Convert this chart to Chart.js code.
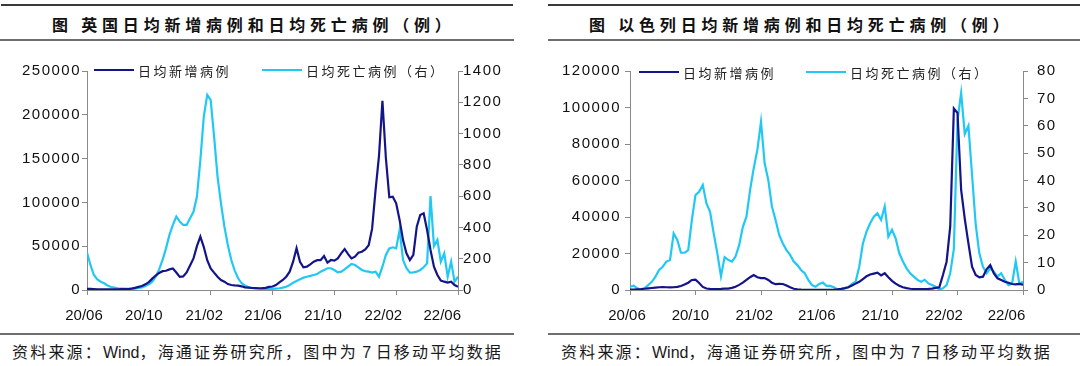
<!DOCTYPE html>
<html>
<head>
<meta charset="utf-8">
<script src="https://cdn.jsdelivr.net/npm/chart.js@4.4.1/dist/chart.umd.min.js"></script>
<style>
  html, body { margin: 0; padding: 0; background: #fff; }
  body { width: 1080px; height: 366px; position: relative; overflow: hidden; }
  .rule { position: absolute; }
  .title { position: absolute; height: 20px; line-height: 20px; font-family: "Noto Sans CJK SC", sans-serif;
           font-weight: 700; font-size: 16px; letter-spacing: 4.8px; color: #111; white-space: pre; }
  .source { position: absolute; height: 20px; line-height: 20px; font-family: "Liberation Sans", "Noto Sans CJK SC", sans-serif;
            font-size: 16px; letter-spacing: 2.2px; color: #1a1a1a; white-space: pre; }
  .source .lat { letter-spacing: 0; }
  canvas { position: absolute; }
</style>
</head>
<body>
<div class="rule" style="left:1px;top:4px;width:512px;height:2px;background:#3a3a3a"></div>
<div class="rule" style="left:0px;top:39px;width:514px;height:2px;background:#6e6e6e"></div>
<div class="rule" style="left:548px;top:4px;width:532px;height:2px;background:#3a3a3a"></div>
<div class="rule" style="left:548px;top:39px;width:532px;height:2px;background:#6e6e6e"></div>
<div class="rule" style="left:0px;top:333px;width:514px;height:2px;background:#6e6e6e"></div>
<div class="rule" style="left:548px;top:333px;width:532px;height:2px;background:#6e6e6e"></div>

<div class="title" style="left:52px;top:14px">图 英国日均新增病例和日均死亡病例（例）</div>
<div class="title" style="left:589px;top:14px">图 以色列日均新增病例和日均死亡病例（例）</div>

<canvas id="ukChart" width="520" height="285" style="left:0px;top:45px;width:520px;height:285px"></canvas>
<canvas id="ilChart" width="540" height="285" style="left:540px;top:45px;width:540px;height:285px"></canvas>

<div class="source" style="left:12px;top:343px">资料来源：<span class="lat">Wind</span>，海通证券研究所，图中为<span class="lat"> 7 </span>日移动平均数据</div>
<div class="source" style="left:561px;top:343px">资料来源：<span class="lat">Wind</span>，海通证券研究所，图中为<span class="lat"> 7 </span>日移动平均数据</div>

<script>
// ---------- data (weekly samples of the 7-day moving averages, from 2020/06 on) ----------
const xLabels = ['20/06', '20/10', '21/02', '21/06', '21/10', '22/02', '22/06'];
const seriesNames = ['日均新增病例', '日均死亡病例（右）'];

const ukCases = [
  1200, 1200, 1000, 800, 700, 650, 650, 700, 750, 800,
  900, 1000, 1100, 1500, 2500, 3500, 4500, 6500, 9000, 13000,
  16500, 19500, 21500, 22000, 23500, 24500, 20000, 15000, 15500, 20000,
  28000, 36000, 50000, 61000, 49000, 34000, 24700, 19800, 15200, 11400,
  9500, 6800, 5700, 5300, 5000, 4200, 3000, 2700, 2300, 2200,
  2000, 2200, 2500, 3500, 4000, 5700, 8700, 11400, 15200, 20900,
  32300, 47600, 32300, 25900, 26600, 29300, 32300, 34000, 34000, 38800,
  31200, 34200, 33500, 36100, 41900, 46800, 41000, 36100, 38000, 42600,
  43700, 46400, 51000, 70000, 114000, 153000, 216000, 151000, 105800, 106500,
  99000, 80000, 57000, 41900, 34200, 40000, 72300, 85600, 87500, 68500,
  45700, 26600, 17100, 10700, 9500, 8400, 9500, 5700, 3800
];
const ukDeaths = [
  240, 160, 96, 68, 53, 43, 28, 19, 15, 11,
  9, 9, 8, 9, 9, 13, 17, 26, 36, 53,
  85, 132, 192, 266, 352, 416, 470, 437, 416, 416,
  458, 500, 597, 831, 1108, 1247, 1215, 980, 725, 554,
  405, 288, 192, 124, 75, 43, 28, 19, 13, 11,
  9, 7, 7, 7, 7, 9, 11, 15, 21, 32,
  47, 58, 68, 79, 85, 90, 96, 102, 117, 128,
  139, 139, 128, 113, 117, 132, 149, 166, 160, 145,
  128, 121, 117, 111, 117, 85, 149, 224, 266, 273,
  266, 384, 192, 139, 111, 113, 117, 128, 145, 170,
  600, 280, 320, 181, 234, 85, 181, 53, 85
];
const ilCases = [
  200, 250, 400, 500, 700, 900, 1100, 1300, 1500, 1600,
  1500, 1400, 1500, 1700, 2200, 3000, 4000, 5500, 5700, 3800,
  1700, 800, 600, 500, 550, 600, 700, 800, 1200, 1800,
  2800, 4000, 5500, 7000, 8200, 7000, 6500, 6500, 5500, 4000,
  3200, 3400, 3300, 2500, 1500, 700, 400, 250, 150, 100,
  80, 50, 50, 50, 80, 100, 150, 300, 600, 1000,
  1500, 2500, 3500, 4500, 6000, 7500, 8500, 9000, 9500, 8000,
  9200, 7000, 5000, 3500, 2300, 1500, 1000, 700, 550, 500,
  500, 550, 600, 800, 1200, 1500, 8200, 15500, 34700, 99500,
  97000, 54800, 39000, 25500, 12800, 8200, 6900, 7300, 11300, 13700,
  9100, 6400, 5500, 4500, 4000, 3300, 3100, 3300, 2900
];
const ilDeaths = [
  1.2, 1.6, 0.6, 0.2, 0.6, 1.8, 3.0, 4.9, 7.3, 8.5,
  10.4, 11, 20.7, 18.3, 13.6, 13.6, 14.6, 25.6, 34.7, 35.9,
  38.4, 31.7, 28.6, 20.7, 13.4, 5, 12, 11, 10.4, 12.2,
  16.4, 23, 26.8, 36.5, 44.5, 51.2, 61.5, 46.3, 40.2, 30.5,
  25.6, 20.1, 17, 14.6, 12.8, 10.4, 9.1, 7.3, 6.1, 3.7,
  1.8, 1.2, 2.2, 2.7, 1.5, 1.5, 1, 0.2, 0.2, 0.6,
  1, 2.2, 3, 8.5, 17, 21.3, 24.4, 26.8, 28, 25.6,
  30.5, 19.5, 22, 18.9, 13.4, 10.4, 7.9, 6.1, 4.9, 3.7,
  3, 3.7, 2.4, 1.8, 1.2, 0.2, 0.6, 1.8, 6.1, 15,
  62, 72, 57, 60, 42, 24, 13.4, 8.5, 6.1, 7.9,
  6.7, 4.9, 6.1, 3.7, 1.8, 2.4, 10.4, 2.4, 3
];
const ukLeftTicks = [0, 50000, 100000, 150000, 200000, 250000];
const ukRightTicks = [0, 200, 400, 600, 800, 1000, 1200, 1400];
const ilLeftTicks = [0, 20000, 40000, 60000, 80000, 100000, 120000];
const ilRightTicks = [0, 10, 20, 30, 40, 50, 60, 70, 80];

// ---------- styling ----------
const NAVY = '#14148a';
const CYAN = '#22c8f4';
const AXIS = '#8a8a8a';
const TEXT = '#111';
const TICK_FONT = { family: '"Liberation Sans", Arial, sans-serif', size: 15 };
const LAST_WEEK = ukCases.length - 1;
const tickMarkWeeks = Array.from({ length: 7 }, (_, k) => k * LAST_WEEK / 6);
const START = Date.UTC(2020, 5, 1);
function labelWeek(lbl) {
  const [yy, mm] = lbl.split('/').map(Number);
  return (Date.UTC(2000 + yy, mm - 1, 1) - START) / (7 * 864e5);
}

const lineLegend = {
  id: 'lineLegend',
  afterDraw(chart, args, o) {
    const ctx = chart.ctx;
    ctx.save();
    ctx.font = o.font;
    ctx.textBaseline = 'middle';
    ctx.textAlign = 'left';
    chart.data.datasets.forEach((ds, i) => {
      const x = o.xs[i];
      ctx.strokeStyle = ds.borderColor;
      ctx.lineWidth = 2;
      ctx.beginPath();
      ctx.moveTo(x, o.y);
      ctx.lineTo(x + o.lineLength, o.y);
      ctx.stroke();
      ctx.letterSpacing = o.letterSpacing;
      ctx.fillStyle = o.color;
      ctx.fillText(ds.label, x + o.lineLength + o.gap, o.y + 1);
      ctx.letterSpacing = '0px';
    });
    ctx.restore();
  }
};

const yTickSpacing = {
  id: 'yTickSpacing',
  beforeDraw(chart, args, o) {
    ['y', 'y1'].forEach(id => {
      const s = chart.scales[id];
      if (s && !s.__spaced) {
        const proto = Object.getPrototypeOf(s);
        s.drawLabels = function (ca) {
          const c = this.ctx;
          c.save();
          c.letterSpacing = o.spacing;
          proto.drawLabels.call(this, ca);
          c.restore();
        };
        s.__spaced = true;
      }
    });
  }
};

function makeChart(id, p) {
  const el = document.getElementById(id);
  return new Chart(el, {
    type: 'line',
    data: {
      datasets: [
        { label: seriesNames[0], data: p.cases.map((v, i) => ({ x: i, y: v })), xAxisID: 'x', yAxisID: 'y',
          borderColor: NAVY, borderWidth: 2.2, pointRadius: 0, tension: 0, fill: false },
        { label: seriesNames[1], data: p.deaths.map((v, i) => ({ x: i, y: v })), xAxisID: 'x', yAxisID: 'y1',
          borderColor: CYAN, borderWidth: 2.2, pointRadius: 0, tension: 0, fill: false }
      ]
    },
    options: {
      responsive: false,
      animation: false,
      devicePixelRatio: 1,
      layout: { padding: { top: p.top, left: 0, right: 0, bottom: 0 } },
      plugins: {
        legend: { display: false },
        tooltip: { enabled: false },
        lineLegend: { y: p.legendY, xs: p.legendXs, lineLength: 40, gap: 4,
                      font: '13px "Noto Sans CJK SC", sans-serif', letterSpacing: '2.5px', color: '#222' },
        yTickSpacing: { spacing: '1.5px' }
      },
      scales: {
        x: {
          type: 'linear', position: 'bottom', weight: 0, min: 0, max: LAST_WEEK,
          afterBuildTicks: s => { s.ticks = tickMarkWeeks.map(v => ({ value: v })); },
          ticks: { display: false },
          grid: { drawOnChartArea: false, drawTicks: true, tickLength: 5, color: AXIS, lineWidth: 1 },
          border: { display: true, color: AXIS, width: 1 },
          afterFit: s => { s.height = 5; }
        },
        xl: {
          type: 'linear', position: 'bottom', weight: 1, min: 0, max: LAST_WEEK,
          afterBuildTicks: s => { s.ticks = xLabels.map(l => ({ value: labelWeek(l) })); },
          ticks: { callback: (v, i) => xLabels[i], font: TICK_FONT, color: TEXT, padding: 12,
                   labelOffset: -3, maxRotation: 0, autoSkip: false },
          grid: { display: false, drawTicks: false },
          border: { display: false },
          afterFit: s => { s.height = 35; }
        },
        y: {
          position: 'left', min: 0, max: p.leftTicks[p.leftTicks.length - 1],
          afterBuildTicks: s => { s.ticks = p.leftTicks.map(v => ({ value: v })); },
          ticks: { callback: v => String(v), font: TICK_FONT, color: TEXT, padding: p.leftPad },
          grid: { drawOnChartArea: false, drawTicks: true, tickLength: 5, color: AXIS },
          border: { color: AXIS, width: 1 },
          afterFit: s => { s.width = p.left; }
        },
        y1: {
          position: 'right', min: 0, max: p.rightTicks[p.rightTicks.length - 1],
          afterBuildTicks: s => { s.ticks = p.rightTicks.map(v => ({ value: v })); },
          ticks: { callback: v => String(v), font: TICK_FONT, color: TEXT, padding: p.rightPad },
          grid: { drawOnChartArea: false, drawTicks: true, tickLength: 5, color: AXIS },
          border: { color: AXIS, width: 1 },
          afterFit: s => { s.width = p.right; }
        }
      }
    },
    plugins: [lineLegend, yTickSpacing]
  });
}

makeChart('ukChart', {
  cases: ukCases, deaths: ukDeaths, leftTicks: ukLeftTicks, rightTicks: ukRightTicks,
  top: 26, left: 87, right: 520 - 458, leftPad: 1, rightPad: 0, legendY: 25, legendXs: [94, 262]
});
makeChart('ilChart', {
  cases: ilCases, deaths: ilDeaths, leftTicks: ilLeftTicks, rightTicks: ilRightTicks,
  top: 26, left: 90, right: 540 - 483, leftPad: 4, rightPad: 9, legendY: 27, legendXs: [99, 266]
});
</script>
</body>
</html>
